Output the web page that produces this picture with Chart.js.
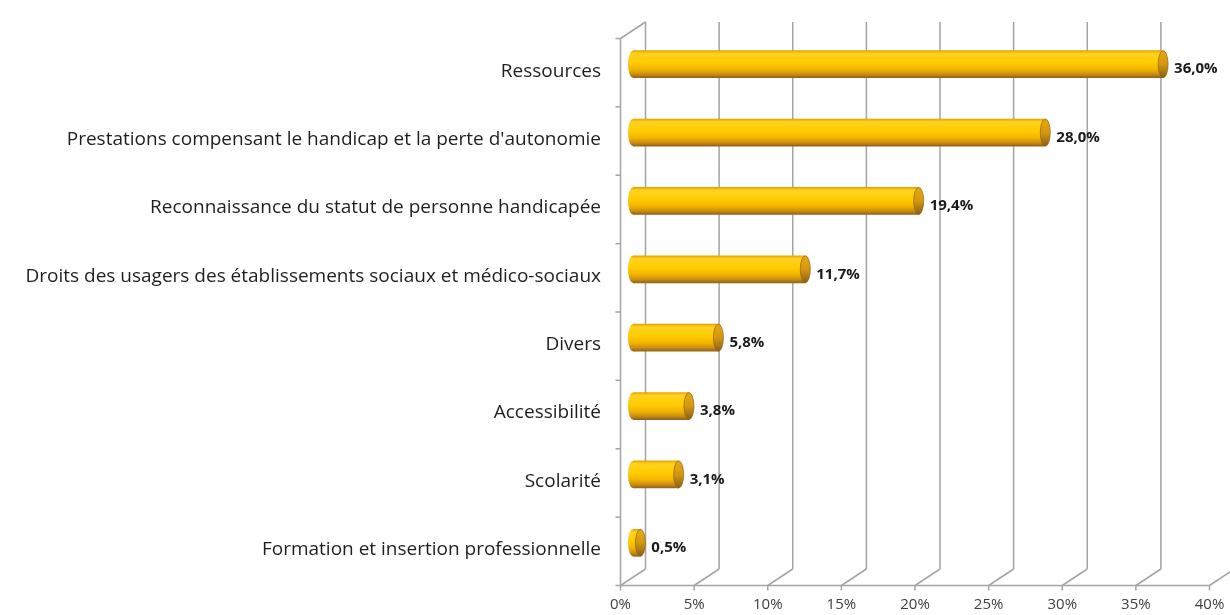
<!DOCTYPE html>
<html>
<head>
<meta charset="utf-8">
<script src="https://cdn.jsdelivr.net/npm/chart.js@4/dist/chart.umd.min.js"></script>
<style>
    body { margin: 0; background: #ffffff; }
    #wrap { width: 1230px; height: 615px; position: relative; }
</style>
</head>
<body>
<div id="wrap"><canvas id="graph"></canvas></div>
<script>
var categories = [
    "Ressources",
    "Prestations compensant le handicap et la perte d'autonomie",
    "Reconnaissance du statut de personne handicapée",
    "Droits des usagers des établissements sociaux et médico-sociaux",
    "Divers",
    "Accessibilité",
    "Scolarité",
    "Formation et insertion professionnelle"
];
var values = [36.0, 28.0, 19.4, 11.7, 5.8, 3.8, 3.1, 0.5];
var xTicks = [0, 5, 10, 15, 20, 25, 30, 35, 40];

var BAR_H = 27;
var CAP_RX = 5;
// offsets of the back wall and the front edge from the plane of the bars
var BACK = { x: 12.5, y: -8 };
var FRONT = { x: -12.5, y: 8.5 };

function sideGradient(ctx, top, bottom) {
    var g = ctx.createLinearGradient(0, top, 0, bottom);
    g.addColorStop(0, "#e7a400");
    g.addColorStop(0.1, "#ffd21e");
    g.addColorStop(0.45, "#ffcc00");
    g.addColorStop(0.7, "#f2b300");
    g.addColorStop(0.88, "#c98c12");
    g.addColorStop(1, "#8f641c");
    return g;
}

function capGradient(ctx, top, bottom) {
    var g = ctx.createLinearGradient(0, top, 0, bottom);
    g.addColorStop(0, "#e8a80c");
    g.addColorStop(0.5, "#d39810");
    g.addColorStop(1, "#8a5f18");
    return g;
}

function percent(v) {
    return v.toFixed(1).replace(".", ",") + "%";
}

function line(ctx, x1, y1, x2, y2) {
    ctx.beginPath();
    ctx.moveTo(x1, y1);
    ctx.lineTo(x2, y2);
    ctx.stroke();
}

var frame3d = {
    id: "frame3d",
    beforeDatasetsDraw: function(chart) {
        var ctx = chart.ctx;
        var xs = chart.scales.x;
        var area = chart.chartArea;
        var slot = (area.bottom - area.top) / categories.length;

        ctx.save();
        ctx.strokeStyle = "#a4a4a4";
        ctx.lineWidth = 1.5;

        for (let i = 0; i < xTicks.length; i++) {
            var p = xs.getPixelForValue(xTicks[i]);
            // back wall
            line(ctx, p + BACK.x, area.top + BACK.y, p + BACK.x, area.bottom + BACK.y);
            // floor
            line(ctx, p + BACK.x, area.bottom + BACK.y, p + FRONT.x, area.bottom + FRONT.y);
            // tick mark under the front edge
            line(ctx, p + FRONT.x, area.bottom + FRONT.y, p + FRONT.x, area.bottom + FRONT.y + 5);
        }

        var x0 = xs.getPixelForValue(xTicks[0]);
        var x1 = xs.getPixelForValue(xTicks[xTicks.length - 1]);
        line(ctx, x0 + FRONT.x, area.bottom + FRONT.y, x1 + FRONT.x, area.bottom + FRONT.y);

        // left wall
        line(ctx, x0 + FRONT.x, area.top + FRONT.y, x0 + FRONT.x, area.bottom + FRONT.y);
        line(ctx, x0 + FRONT.x, area.top + FRONT.y, x0 + BACK.x, area.top + BACK.y);
        for (let k = 0; k <= categories.length; k++) {
            var ty = area.top + k * slot + FRONT.y;
            line(ctx, x0 + FRONT.x - 5, ty, x0 + FRONT.x, ty);
        }
        ctx.restore();
    },
    afterDatasetsDraw: function(chart) {
        var ctx = chart.ctx;
        var meta = chart.getDatasetMeta(0);

        ctx.save();
        meta.data.forEach(function(bar, i) {
            var b = bar.getProps(["x", "y", "base", "height"], true);
            var top = b.y - b.height / 2;
            var bottom = b.y + b.height / 2;

            // rounded back of the cylinder
            ctx.beginPath();
            ctx.ellipse(b.base, b.y, CAP_RX, b.height / 2, 0, Math.PI / 2, Math.PI * 1.5);
            ctx.closePath();
            ctx.fillStyle = sideGradient(ctx, top, bottom);
            ctx.fill();

            // end face
            ctx.beginPath();
            ctx.ellipse(b.x, b.y, CAP_RX, b.height / 2, 0, 0, Math.PI * 2);
            ctx.fillStyle = capGradient(ctx, top, bottom);
            ctx.fill();
            ctx.strokeStyle = "rgba(150, 100, 20, 0.7)";
            ctx.lineWidth = 1;
            ctx.stroke();

            ctx.fillStyle = "#1a1a1a";
            ctx.font = "bold 15px 'Open Sans'";
            ctx.textAlign = "left";
            ctx.textBaseline = "middle";
            ctx.fillText(percent(values[i]), b.x + CAP_RX + 6, b.y + 5);
        });
        ctx.restore();
    }
};

var chart = new Chart(document.getElementById("graph"), {
    type: "bar",
    data: {
        labels: categories,
        datasets: [{
            data: values,
            barThickness: BAR_H,
            borderWidth: 0,
            backgroundColor: function(c) {
                var ys = c.chart.scales.y;
                if (!ys || c.dataIndex === undefined) return "#ffc800";
                var cy = ys.getPixelForValue(c.dataIndex);
                if (!isFinite(cy)) return "#ffc800";
                return sideGradient(c.chart.ctx, cy - BAR_H / 2, cy + BAR_H / 2);
            }
        }]
    },
    options: {
        indexAxis: "y",
        responsive: true,
        maintainAspectRatio: false,
        animation: false,
        layout: { padding: { top: 30, right: 8, bottom: 0, left: 0 } },
        plugins: {
            legend: { display: false },
            tooltip: { enabled: false }
        },
        scales: {
            x: {
                min: 0,
                max: 40,
                grid: { display: false, drawTicks: false },
                border: { display: false },
                afterBuildTicks: function(scale) {
                    scale.ticks = xTicks.map(function(v) { return { value: v }; });
                },
                afterFit: function(scale) {
                    scale.height = 38;
                    scale.paddingLeft = 0;
                    scale.paddingRight = 0;
                },
                ticks: {
                    autoSkip: false,
                    maxRotation: 0,
                    padding: 19,
                    labelOffset: -12.5,
                    color: "#404040",
                    font: { family: "'Open Sans'", size: 15 },
                    callback: function(v) { return v + "%"; }
                }
            },
            y: {
                grid: { display: false, drawTicks: false },
                border: { display: false },
                afterFit: function(scale) {
                    scale.width = 633;
                    scale.paddingTop = 0;
                    scale.paddingBottom = 0;
                },
                ticks: {
                    padding: 32,
                    labelOffset: 7,
                    color: "#1f1f1f",
                    font: { family: "'Open Sans'", size: 19 }
                }
            }
        }
    },
    plugins: [frame3d]
});
</script>
</body>
</html>
